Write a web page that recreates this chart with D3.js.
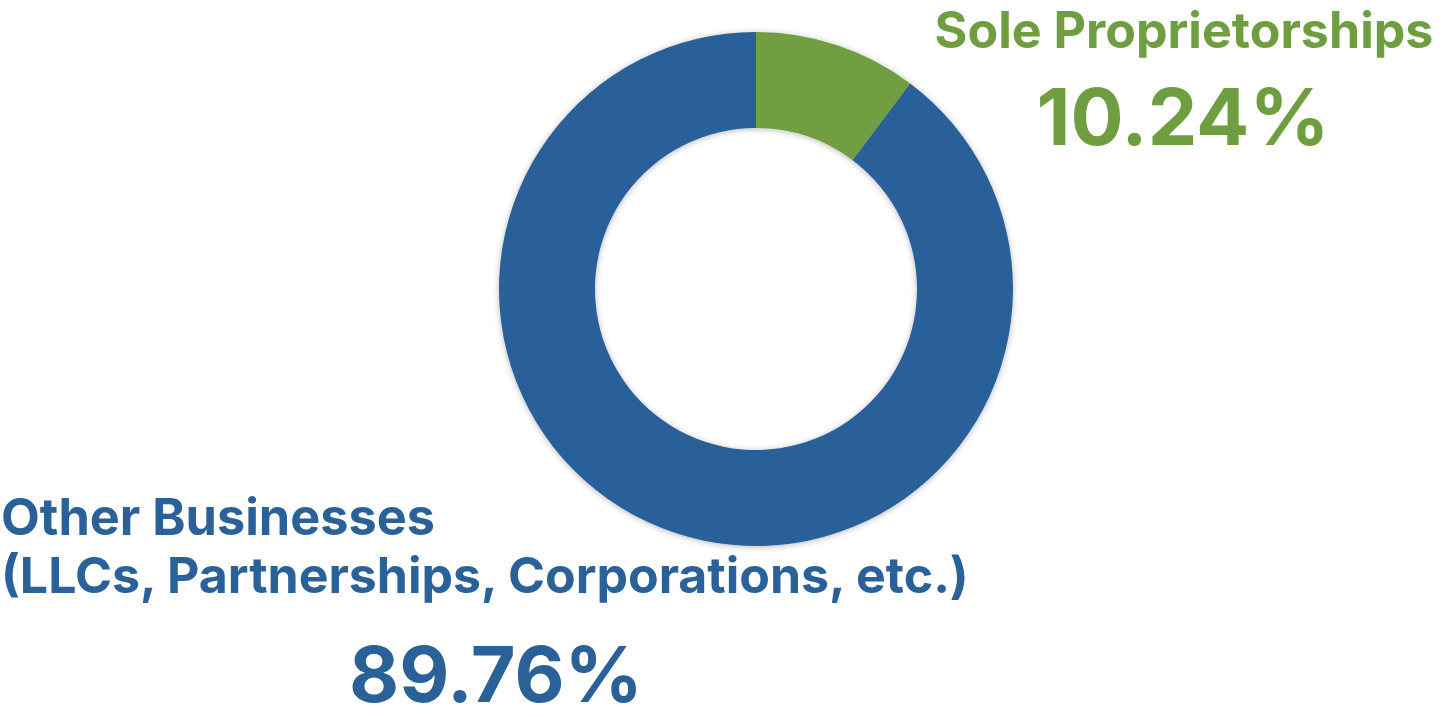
<!DOCTYPE html>
<html><head><meta charset="utf-8">
<script src="https://cdn.jsdelivr.net/npm/d3@7"></script>
<style>html,body{margin:0;padding:0;background:#fff;}svg{display:block;}</style>
</head><body>
<svg id="chart" width="1445" height="717"></svg>
<script>
const categories = ["Sole Proprietorships", "Other Businesses"];
const values = [10.24, 89.76];
const valueLabels = ["10.24%", "89.76%"];
const subLabels = ["", "(LLCs, Partnerships, Corporations, etc.)"];
const colors = ["#6f9e40", "#2a6199"];

const svg = d3.select("#chart");
const defs = svg.append("defs");
const f = defs.append("filter").attr("id","sh").attr("x","-10%").attr("y","-10%").attr("width","120%").attr("height","120%");
f.append("feDropShadow").attr("dx",0).attr("dy",1).attr("stdDeviation",3).attr("flood-color","#000").attr("flood-opacity",0.28);

const cx = 756, cy = 289, rOut = 257, rIn = 161;
const pie = d3.pie().sort(null).value(d => d);
const arc = d3.arc().innerRadius(rIn).outerRadius(rOut);
const g = svg.append("g").attr("transform", `translate(${cx},${cy})`).attr("filter","url(#sh)");
g.selectAll("path").data(pie(values)).join("path")
  .attr("d", arc).attr("fill", (d,i) => colors[i]);

const font = "Inter, 'Noto Sans', sans-serif";
function fitText(sel, targetW) {
  const w = sel.node().getComputedTextLength();
  const fs = parseFloat(sel.attr("font-size"));
  sel.attr("font-size", fs * targetW / w);
}
const t1 = svg.append("text").attr("x",1184).attr("y",48).attr("text-anchor","middle")
  .attr("font-family",font).attr("font-weight",700).attr("font-size",48).attr("fill",colors[0]).text(categories[0]);
fitText(t1, 499);
const v1 = svg.append("text").attr("x",1183).attr("y",145).attr("text-anchor","middle")
  .attr("font-family",font).attr("font-weight",700).attr("font-size",80).attr("fill",colors[0]).text(valueLabels[0]);
fitText(v1, 293);

const t2 = svg.append("text").attr("x",1).attr("y",535).attr("text-anchor","start")
  .attr("font-family",font).attr("font-weight",700).attr("font-size",48).attr("fill",colors[1]).text(categories[1]);
fitText(t2, 434);
const t3 = svg.append("text").attr("x",1).attr("y",593).attr("text-anchor","start")
  .attr("font-family",font).attr("font-weight",700).attr("font-size",48).attr("fill",colors[1]).text(subLabels[1]);
fitText(t3, 968);
const v2 = svg.append("text").attr("x",496).attr("y",702).attr("text-anchor","middle")
  .attr("font-family",font).attr("font-weight",700).attr("font-size",80).attr("fill",colors[1]).text(valueLabels[1]);
fitText(v2, 294);
</script>
</body></html>
